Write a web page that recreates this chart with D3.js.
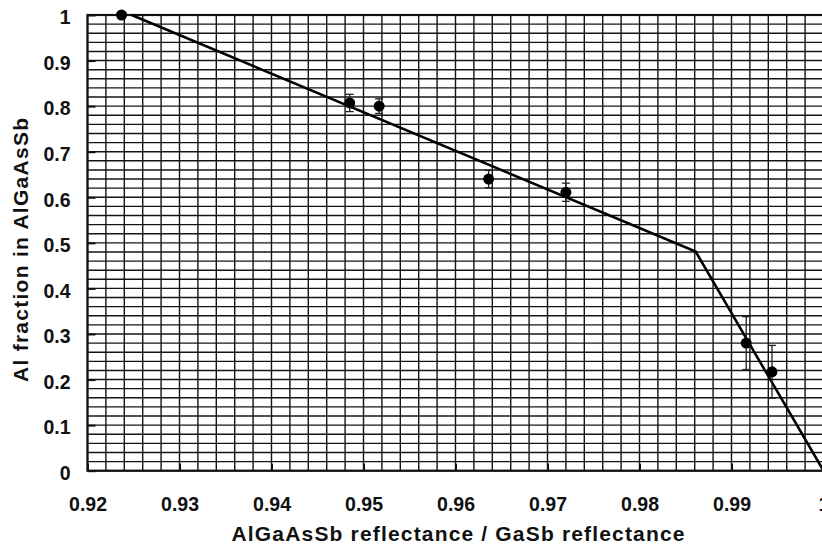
<!DOCTYPE html>
<html>
<head>
    <title>Al fraction vs reflectance</title>
    <style>
      body { margin: 0; background: #fff; }
      text { font-family: "Liberation Sans", Arial, sans-serif; font-weight: bold; fill: #111; }
      .axis path { stroke: none; }
      .axis .tick line { stroke: #111; stroke-width: 2; }
      .grid line { stroke: #141414; stroke-width: 1.4; }
    </style>
</head>
<body>
<script src="https://d3js.org/d3.v7.min.js"></script>
<script>
    // measured points (reflectance ratio, Al fraction, error)
    var ratio = [0.9237, 0.9485, 0.9517, 0.9636, 0.9720, 0.9916, 0.9944];
    var alFrac = [1.0, 0.807, 0.800, 0.640, 0.611, 0.280, 0.217];
    var alErr = [0, 0.019, 0.016, 0.019, 0.02, 0.058, 0.058];

    // fitted calibration line
    var fitX = [0.9248, 0.9861, 1.0];
    var fitY = [1.0, 0.481, 0.0];

    var xTicks = [0.92, 0.93, 0.94, 0.95, 0.96, 0.97, 0.98, 0.99, 1.0];
    var yTicks = [0, 0.1, 0.2, 0.3, 0.4, 0.5, 0.6, 0.7, 0.8, 0.9, 1];

    var W = 822, H = 555;

    var x = d3.scaleLinear().domain([0.92, 1.0]).range([87.5, 823.5]);
    var y = d3.scaleLinear().domain([0, 1]).range([470.7, 15]);

    var svg = d3.select("body").append("svg")
        .attr("width", W)
        .attr("height", H);

    svg.append("rect").attr("width", W).attr("height", H).attr("fill", "#fff");

    /*********** grid ***********/
    var grid = svg.append("g").attr("class", "grid");

    // vertical every 0.002, horizontal every 0.02
    grid.selectAll("line.v")
        .data(d3.range(0, 41))
        .enter().append("line")
        .attr("class", "v")
        .attr("x1", function(i) { return x(0.92 + i * 0.002); })
        .attr("x2", function(i) { return x(0.92 + i * 0.002); })
        .attr("y1", y(0))
        .attr("y2", y(1));

    grid.selectAll("line.h")
        .data(d3.range(0, 51))
        .enter().append("line")
        .attr("class", "h")
        .attr("x1", x(0.92))
        .attr("x2", x(1.0))
        .attr("y1", function(i) { return y(i * 0.02); })
        .attr("y2", function(i) { return y(i * 0.02); });

    // frame
    svg.append("rect")
        .attr("x", x(0.92)).attr("y", y(1))
        .attr("width", x(1.0) - x(0.92)).attr("height", y(0) - y(1))
        .attr("fill", "none").attr("stroke", "#111").attr("stroke-width", 2.2);

    /*********** axes ***********/
    var xAxis = d3.axisBottom(x)
        .tickValues(xTicks)
        .tickFormat(function(d) { return String(d); })
        .tickSizeInner(-7)
        .tickSizeOuter(0)
        .tickPadding(26);

    var gx = svg.append("g")
        .attr("class", "axis")
        .attr("transform", "translate(0," + y(0) + ")")
        .call(xAxis);
    gx.selectAll("text").attr("font-size", "19.5px").attr("fill", "#111");

    var yAxis = d3.axisLeft(y)
        .tickValues(yTicks)
        .tickFormat(function(d) { return String(d); })
        .tickSizeInner(-8)
        .tickSizeOuter(0)
        .tickPadding(17);

    var gy = svg.append("g")
        .attr("class", "axis")
        .attr("transform", "translate(" + x(0.92) + ",0)")
        .call(yAxis);
    gy.selectAll("text").attr("font-size", "19.5px").attr("fill", "#111").attr("dy", "0.45em");

    /*********** fit line ***********/
    var line = d3.line()
        .x(function(d) { return x(d[0]); })
        .y(function(d) { return y(d[1]); });

    svg.append("path")
        .datum(d3.zip(fitX, fitY))
        .attr("d", line)
        .attr("fill", "none")
        .attr("stroke", "#000")
        .attr("stroke-width", 2.6);

    /*********** data with error bars ***********/
    var pts = d3.range(ratio.length).map(function(i) {
        return { x: ratio[i], y: alFrac[i], e: alErr[i] };
    });

    var eb = svg.append("g").selectAll("g")
        .data(pts.filter(function(d) { return d.e > 0; }))
        .enter().append("g")
        .attr("stroke", "#222")
        .attr("stroke-width", 1.3);

    eb.append("line")
        .attr("x1", function(d) { return x(d.x); })
        .attr("x2", function(d) { return x(d.x); })
        .attr("y1", function(d) { return y(d.y - d.e); })
        .attr("y2", function(d) { return y(d.y + d.e); });
    eb.append("line")
        .attr("x1", function(d) { return x(d.x) - 4; })
        .attr("x2", function(d) { return x(d.x) + 4; })
        .attr("y1", function(d) { return y(d.y + d.e); })
        .attr("y2", function(d) { return y(d.y + d.e); });
    eb.append("line")
        .attr("x1", function(d) { return x(d.x) - 4; })
        .attr("x2", function(d) { return x(d.x) + 4; })
        .attr("y1", function(d) { return y(d.y - d.e); })
        .attr("y2", function(d) { return y(d.y - d.e); });

    svg.append("g").selectAll("circle")
        .data(pts)
        .enter().append("circle")
        .attr("cx", function(d) { return x(d.x); })
        .attr("cy", function(d) { return y(d.y); })
        .attr("r", 5.5)
        .attr("fill", "#000");

    /*********** titles ***********/
    svg.append("text")
        .attr("x", 458)
        .attr("y", 541)
        .attr("text-anchor", "middle")
        .attr("font-size", "21px")
        .attr("textLength", 453)
        .attr("lengthAdjust", "spacing")
        .text("AlGaAsSb reflectance / GaSb reflectance");

    svg.append("text")
        .attr("transform", "translate(28,250) rotate(-90)")
        .attr("text-anchor", "middle")
        .attr("font-size", "21px")
        .attr("textLength", 264)
        .attr("lengthAdjust", "spacing")
        .text("Al fraction in AlGaAsSb");
</script>
</body>
</html>
